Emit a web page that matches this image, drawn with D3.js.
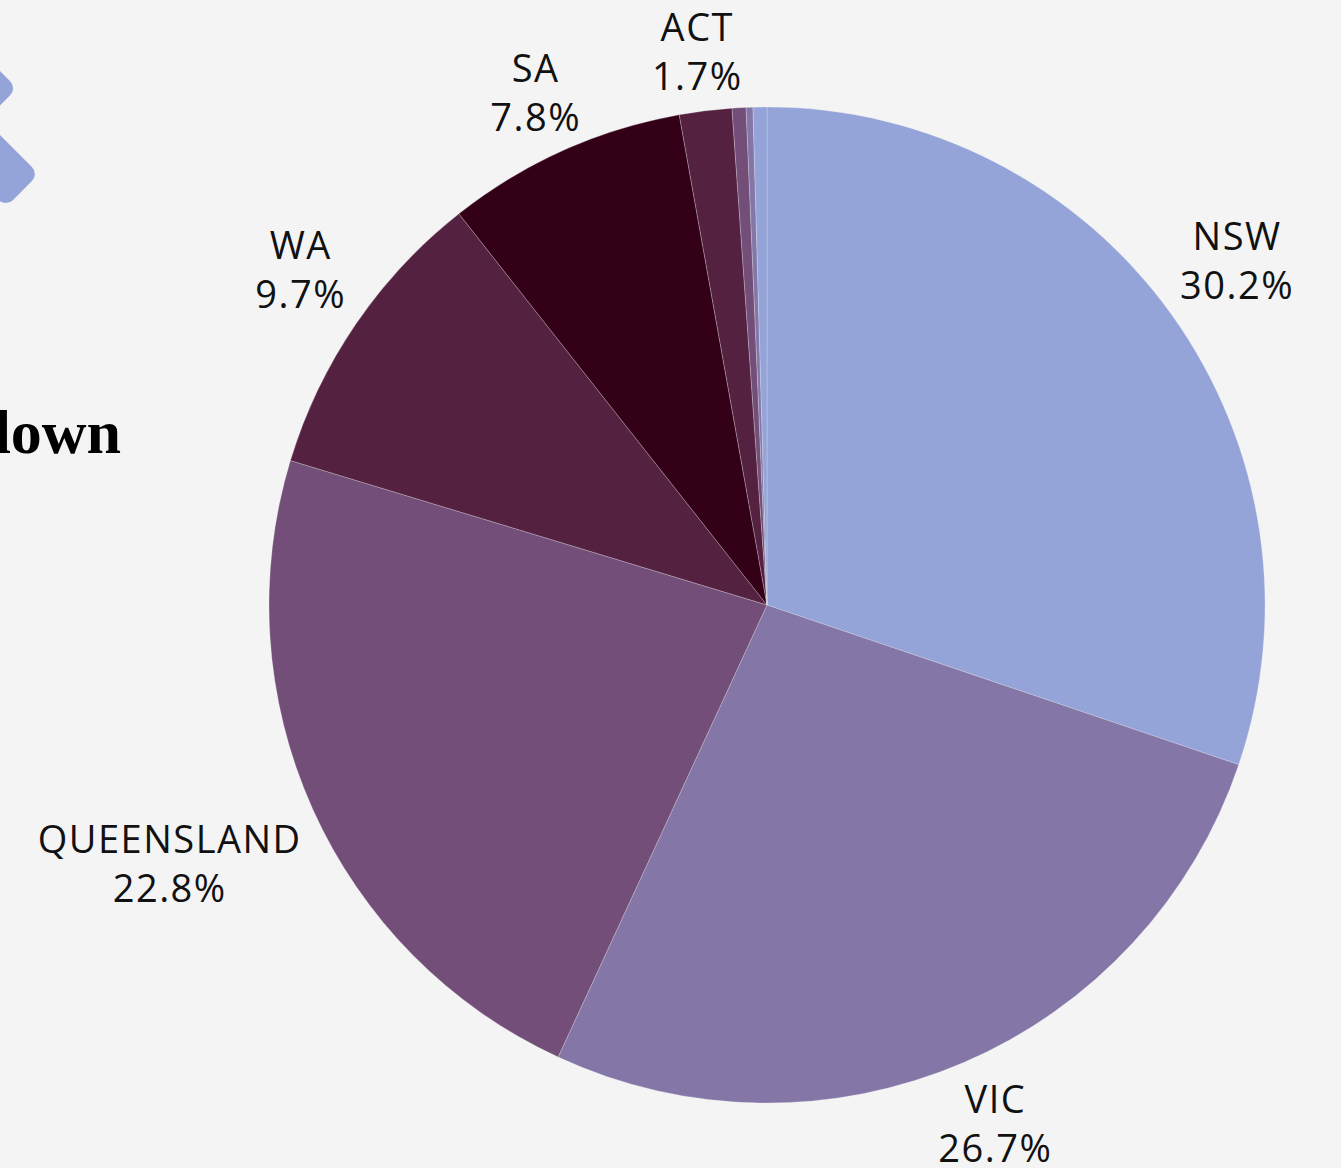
<!DOCTYPE html>
<html>
<head>
<meta charset="utf-8">
<script src="https://cdn.jsdelivr.net/npm/d3@7"></script>
<style>
  html, body { margin: 0; padding: 0; background: #f4f4f4; overflow: hidden; }
  svg { display: block; }
</style>
</head>
<body>
<div id="chart"></div>
<script>
// state share data (percent)
const states = ["NSW", "VIC", "QUEENSLAND", "WA", "SA", "ACT", "TAS", "NT", "OTHER"]
const shares = [30.2, 26.7, 22.8, 9.7, 7.8, 1.7, 0.45, 0.22, 0.45]
const colors = ["#94a4d8", "#8477a8", "#724e78", "#552141", "#330018", "#552141", "#724e78", "#8477a8", "#94a4d8"]

const W = 1341, H = 1168
const cx = 767, cy = 605, radius = 498

const svg = d3.select("#chart")
    .append("svg")
    .attr("width", W)
    .attr("height", H)

svg.append("rect").attr("width", W).attr("height", H).attr("fill", "#f4f4f4")

// decorative chevron arms, mostly off the left edge
const deco = svg.append("g").attr("fill", "#94a4d8")
deco.append("rect")
    .attr("transform", "translate(-16,55) rotate(-45)")
    .attr("x", -200).attr("y", 0).attr("width", 200).attr("height", 47).attr("rx", 10)
deco.append("rect")
    .attr("transform", "translate(39,174) rotate(45)")
    .attr("x", -200).attr("y", 0).attr("width", 200).attr("height", 47).attr("rx", 10)

// title, cut off by the left edge
svg.append("text")
    .attr("x", 121)
    .attr("y", 453)
    .attr("text-anchor", "end")
    .style("font-family", "'Liberation Serif', 'DejaVu Serif', serif")
    .style("font-weight", "bold")
    .style("font-size", "62px")
    .attr("fill", "#000")
    .text("Breakdown")

const data = states.map((s, i) => ({ state: s, share: shares[i], color: colors[i] }))

const pie = d3.pie()
    .value(d => d.share)
    .sort(null)

const arc = d3.arc()
    .innerRadius(0)
    .outerRadius(radius)

const g = svg.append("g")
    .attr("transform", "translate(" + cx + "," + cy + ")")

const arcs = pie(data)

g.selectAll("path")
    .data(arcs)
    .enter()
    .append("path")
    .attr("d", arc)
    .attr("fill", d => d.data.color)
    .attr("stroke", "#f4f4f4")
    .attr("stroke-opacity", 0.25)
    .attr("stroke-width", 1)

// outside labels (tiny slices are not labelled)
const labelR = radius + 12
arcs.filter(d => d.data.share >= 1).forEach(d => {
    const a = (d.startAngle + d.endAngle) / 2
    const sx = Math.sin(a), sy = -Math.cos(a)
    const t = g.append("text")
        .attr("text-anchor", "middle")
        .style("font-family", "'Open Sans', 'Noto Sans', sans-serif")
        .style("font-size", "38px")
        .style("letter-spacing", "1.5px")
        .attr("fill", "#111")
    t.append("tspan").attr("x", 0).attr("dy", 0).text(d.data.state)
    t.append("tspan").attr("x", 0).attr("dy", 49).text(d.data.share.toFixed(1) + "%")
    const bb = t.node().getBBox()
    const w = bb.width, h = bb.height
    const bx = labelR * sx + Math.sign(sx) * w / 2 * Math.min(1, Math.abs(sx) * 1.2)
    const by = labelR * sy + Math.sign(sy) * (h / 2 - 2)
    // shift so the box centre lands on (bx, by)
    const ox = bx - (bb.x + w / 2)
    const oy = by - (bb.y + h / 2)
    t.attr("transform", "translate(" + ox + "," + oy + ")")
})
</script>
</body>
</html>
